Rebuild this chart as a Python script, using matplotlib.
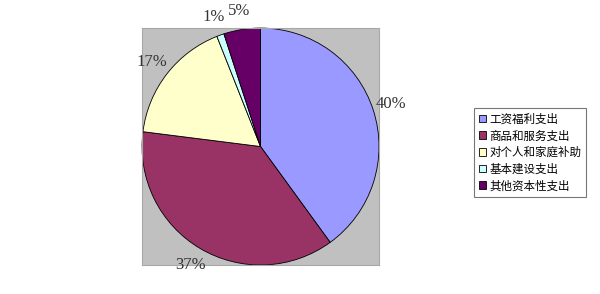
import matplotlib.pyplot as plt
from matplotlib.patches import Patch

## 支出构成数据
categories = ['工资福利支出', '商品和服务支出', '对个人和家庭补助', '基本建设支出', '其他资本性支出']
shares = [40, 37, 17, 1, 5]
colors = ['#9999FF', '#993366', '#FFFFCC', '#CCFFFF', '#660066']

plt.rcParams['font.family'] = ['Noto Sans CJK SC', 'DejaVu Sans']

fig = plt.figure(figsize=(6, 2.94), dpi=100)
fig.patch.set_facecolor('white')

## 饼图区域 (灰色背景)
ax = fig.add_axes([0.2367, 0.0986, 0.395, 0.806])
ax.set_facecolor('#C0C0C0')
for s in ax.spines.values():
    s.set_color('#A8A8A8')
    s.set_linewidth(0.8)

wedges, texts, autotexts = ax.pie(
    shares, colors=colors, startangle=90, counterclock=False,
    radius=1.0, autopct='%d%%', pctdistance=1.16,
    wedgeprops=dict(edgecolor='black', linewidth=0.6),
    textprops=dict(family='Liberation Serif', fontsize=12, color='#333333'),
    frame=True)
ax.set_xlim(-1, 1)
ax.set_ylim(-1, 1)
ax.set_aspect('equal')
ax.set_xticks([])
ax.set_yticks([])
for t in autotexts:
    t.set_clip_on(False)

## 图例
handles = [Patch(facecolor=c, edgecolor='black', linewidth=0.6) for c in colors]
leg = fig.legend(handles, categories, loc='upper left',
                 bbox_to_anchor=(474 / 600, 1 - 108 / 294),
                 fontsize=8.3, frameon=True, fancybox=False,
                 handlelength=0.65, handleheight=0.65, handletextpad=0.3,
                 labelspacing=0.32, borderpad=0.4, borderaxespad=0)
leg.get_frame().set_edgecolor('#555555')
leg.get_frame().set_linewidth(0.8)

plt.savefig('out.png', dpi=100)
